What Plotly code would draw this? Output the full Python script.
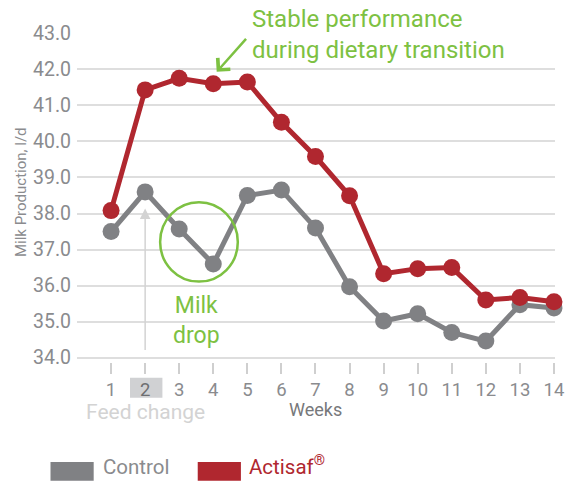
import plotly.graph_objects as go

weeks = list(range(1, 15))
control = [37.5, 38.6, 37.57, 36.6, 38.5, 38.65, 37.6, 35.97, 35.02, 35.22, 34.7, 34.46, 35.47, 35.38]
actisaf = [38.08, 41.43, 41.75, 41.6, 41.65, 40.53, 39.58, 38.49, 36.33, 36.47, 36.5, 35.6, 35.67, 35.55]
y_ticks = [34, 35, 36, 37, 38, 39, 40, 41, 42, 43]
series_names = ["Control", "Actisaf®"]

RED = "#b0272f"
GRAY = "#808184"
GREEN = "#7dc142"
LIGHT = "#d3d3d3"
TXT = "#8a8b8e"
FONT = "Roboto"

W, H = 572, 481
ML, MR, MT, MB = 77, 8, 33, 119
PW, PH = W - ML - MR, H - MT - MB


def px(x):
    return (x - ML) / PW


def py(y):
    return (H - MB - y) / PH


fig = go.Figure()
for name, vals, col in [(series_names[0], control, GRAY), (series_names[1], actisaf, RED)]:
    fig.add_trace(go.Scatter(
        x=weeks, y=vals, mode="lines+markers", name=name,
        line=dict(color=col, width=5),
        marker=dict(color=col, size=17),
        cliponaxis=False, showlegend=False,
    ))

tick_text = [f"<span style='color:#6d6e71'>{w}</span>" if w == 2 else str(w) for w in weeks]

fig.update_layout(
    width=W, height=H,
    margin=dict(l=ML, r=MR, t=MT, b=MB, pad=0),
    paper_bgcolor="white", plot_bgcolor="white",
    font=dict(family=FONT, color=TXT),
    xaxis=dict(
        range=[0, 14.03], tickvals=weeks, ticktext=tick_text,
        showgrid=False, zeroline=False, showline=False,
        ticks="outside", ticklen=11, tickwidth=1.5, tickcolor="#cfcfcf",
        tickfont=dict(size=18.5, color=TXT, family=FONT),
        ticklabeloverflow="allow",
    ),
    yaxis=dict(
        range=[33.88, 43.008], tickvals=y_ticks,
        ticktext=[f"{v:.1f}" for v in y_ticks],
        showgrid=True, gridcolor="#dedede", gridwidth=2,
        zeroline=False, showline=False, ticks="",
        tickfont=dict(size=19.5, color=TXT, family=FONT),
        ticklabelstandoff=5,
    ),
)

shapes = []
annotations = []

# highlight behind week 2 label
shapes.append(dict(type="rect", xref="x", yref="paper", x0=1.556, x1=2.507,
                   y0=py(397.7), y1=py(377.7), fillcolor="#d0d1d3",
                   line=dict(width=0), layer="below"))

# green circle for milk drop
shapes.append(dict(type="circle", xref="x", yref="y", x0=2.44, x1=4.72,
                   y0=36.11, y1=38.31, line=dict(color=GREEN, width=2.5)))

# legend swatches
shapes.append(dict(type="rect", xref="paper", yref="paper", x0=px(50), x1=px(94),
                   y0=py(480.7), y1=py(462), fillcolor=GRAY, line=dict(width=0)))
shapes.append(dict(type="rect", xref="paper", yref="paper", x0=px(200), x1=px(244),
                   y0=py(480.7), y1=py(462), fillcolor=RED, line=dict(width=0)))

annotations += [
    dict(xref="paper", yref="paper", x=px(101.5), y=py(481), xanchor="left", yanchor="bottom",
         text=series_names[0], showarrow=False, font=dict(size=20.5, color=TXT, family=FONT)),
    dict(xref="paper", yref="paper", x=px(250), y=py(481), xanchor="left", yanchor="bottom",
         text="Actisaf<sup>®</sup>", showarrow=False, font=dict(size=20.5, color=RED, family=FONT)),
    # axis titles
    dict(xref="paper", yref="paper", x=px(320), y=py(409), xanchor="center", yanchor="middle",
         text="Weeks", showarrow=False, font=dict(size=18, color="#77787b", family=FONT)),
    dict(xref="paper", yref="paper", x=px(20), y=py(192), xanchor="center", yanchor="middle",
         text="Milk Production, l/d", textangle=-90, showarrow=False,
         font=dict(size=15, color=TXT, family=FONT)),
    # feed change
    dict(xref="x", yref="paper", x=2, y=py(411.7), xanchor="center", yanchor="middle",
         text="Feed change", showarrow=False, font=dict(size=21, color=LIGHT, family=FONT)),
    dict(xref="x", yref="y", x=2, y=38.14, ax=2, ay=34.17, axref="x", ayref="y",
         text="", showarrow=True, arrowhead=2, arrowsize=1.4, arrowwidth=1.5,
         arrowcolor=LIGHT, standoff=0),
    # milk drop
    dict(xref="paper", yref="paper", x=px(199), y=py(320), xanchor="center", yanchor="middle",
         text="Milk<br>drop", showarrow=False, font=dict(size=23, color=GREEN, family=FONT)),
    # stable performance
    dict(xref="paper", yref="paper", x=px(253), y=py(34.5), xanchor="left", yanchor="middle",
         align="left", text="Stable performance<br>during dietary transition",
         showarrow=False, font=dict(size=24, color=GREEN, family=FONT)),
    dict(xref="x", yref="y", x=4.10, y=41.93, ax=30.7, ay=-34.4,
         text="", showarrow=True, arrowhead=4, arrowsize=1.3, arrowwidth=2.5,
         arrowcolor=GREEN, standoff=0),
]

fig.update_layout(shapes=shapes, annotations=annotations)
fig.write_html(
    "out.html",
    config={"displayModeBar": False},
    post_script="document.body.style.margin='0px';document.body.style.overflow='hidden';",
)
